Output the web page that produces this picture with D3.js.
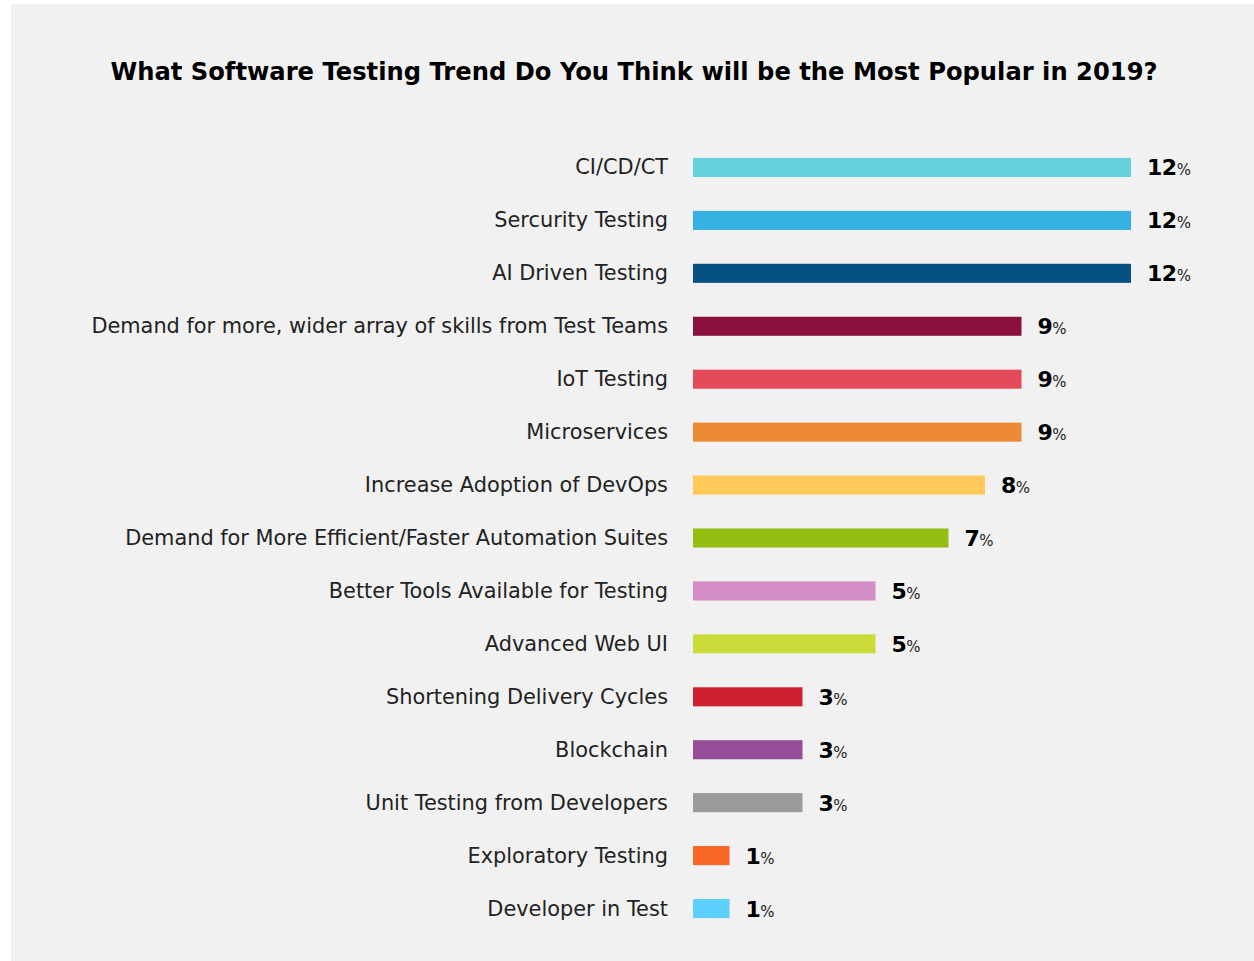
<!DOCTYPE html>
<html>
<head>
<meta charset="utf-8">
<script src="https://cdn.jsdelivr.net/npm/d3@7"></script>
<style>
  body { margin: 0; background: #fff; }
  svg { display: block; }
</style>
</head>
<body>
<div id="chart"></div>
<script>
// --------------------------- data ---------------------------
var categories = [
  "CI/CD/CT",
  "Sercurity Testing",
  "AI Driven Testing",
  "Demand for more, wider array of skills from Test Teams",
  "IoT Testing",
  "Microservices",
  "Increase Adoption of DevOps",
  "Demand for More Efficient/Faster Automation Suites",
  "Better Tools Available for Testing",
  "Advanced Web UI",
  "Shortening Delivery Cycles",
  "Blockchain",
  "Unit Testing from Developers",
  "Exploratory Testing",
  "Developer in Test"
];
var values = [12, 12, 12, 9, 9, 9, 8, 7, 5, 5, 3, 3, 3, 1, 1];
var colors = [
  "#66d1db", "#35b2e3", "#055282", "#8b103e", "#e34a5a",
  "#ec8b34", "#ffc95a", "#93be12", "#d38dc4", "#cadb3a",
  "#cf202f", "#944d96", "#9b9b9b", "#f86726", "#5ccffc"
];
var title = "What Software Testing Trend Do You Think will be the Most Popular in 2019?";

// --------------------------- layout ---------------------------
var W = 1254, H = 961;
var font = '"DejaVu Sans", sans-serif';

var svg = d3.select("#chart").append("svg")
    .attr("width", W).attr("height", H);

svg.append("rect")
    .attr("x", 11).attr("y", 4)
    .attr("width", W - 11).attr("height", H - 4)
    .attr("fill", "#f1f1f1");

var x = d3.scaleLinear().domain([0, 12]).range([693, 1131]);
var y = d3.scaleBand().domain(categories).range([141, 935]).paddingInner(0.64).paddingOuter(0.32);

// title, fitted to the width it takes in the picture
var t = svg.append("text")
    .attr("x", 634).attr("y", 72)
    .attr("text-anchor", "middle")
    .attr("dominant-baseline", "central")
    .style("font-family", font)
    .style("font-weight", "bold")
    .style("font-size", "26px")
    .style("fill", "#000")
    .text(title);
var tw = t.node().getComputedTextLength();
t.style("font-size", (26 * 1048 / tw) + "px");

// category labels
var labels = svg.append("g").selectAll("text")
    .data(categories)
    .enter().append("text")
    .attr("x", 668)
    .attr("y", function (d) { return y(d) + y.bandwidth() / 2; })
    .attr("text-anchor", "end")
    .attr("dominant-baseline", "central")
    .style("font-family", font)
    .style("font-size", "20px")
    .style("fill", "#222")
    .text(function (d) { return d; });
var lw = labels.filter(function (d, i) { return i === 3; }).node().getComputedTextLength();
labels.style("font-size", (20 * 577 / lw) + "px");

// bars
svg.append("g").selectAll("rect")
    .data(values)
    .enter().append("rect")
    .attr("x", x(0))
    .attr("y", function (d, i) { return y(categories[i]); })
    .attr("width", function (d) { return x(d) - x(0); })
    .attr("height", y.bandwidth())
    .attr("fill", function (d, i) { return colors[i]; });

// value labels
var vl = svg.append("g").selectAll("text")
    .data(values)
    .enter().append("text")
    .attr("x", function (d) { return x(d) + 16; })
    .attr("y", function (d, i) { return y(categories[i]) + y.bandwidth() / 2 + 8; })
    .style("font-family", font)
    .style("fill", "#000");
vl.append("tspan")
    .style("font-weight", "bold")
    .style("font-size", "22px")
    .style("letter-spacing", "-0.5px")
    .text(function (d) { return d; });
vl.append("tspan")
    .style("font-size", "15px")
    .style("fill", "#222")
    .text("%");
</script>
</body>
</html>
